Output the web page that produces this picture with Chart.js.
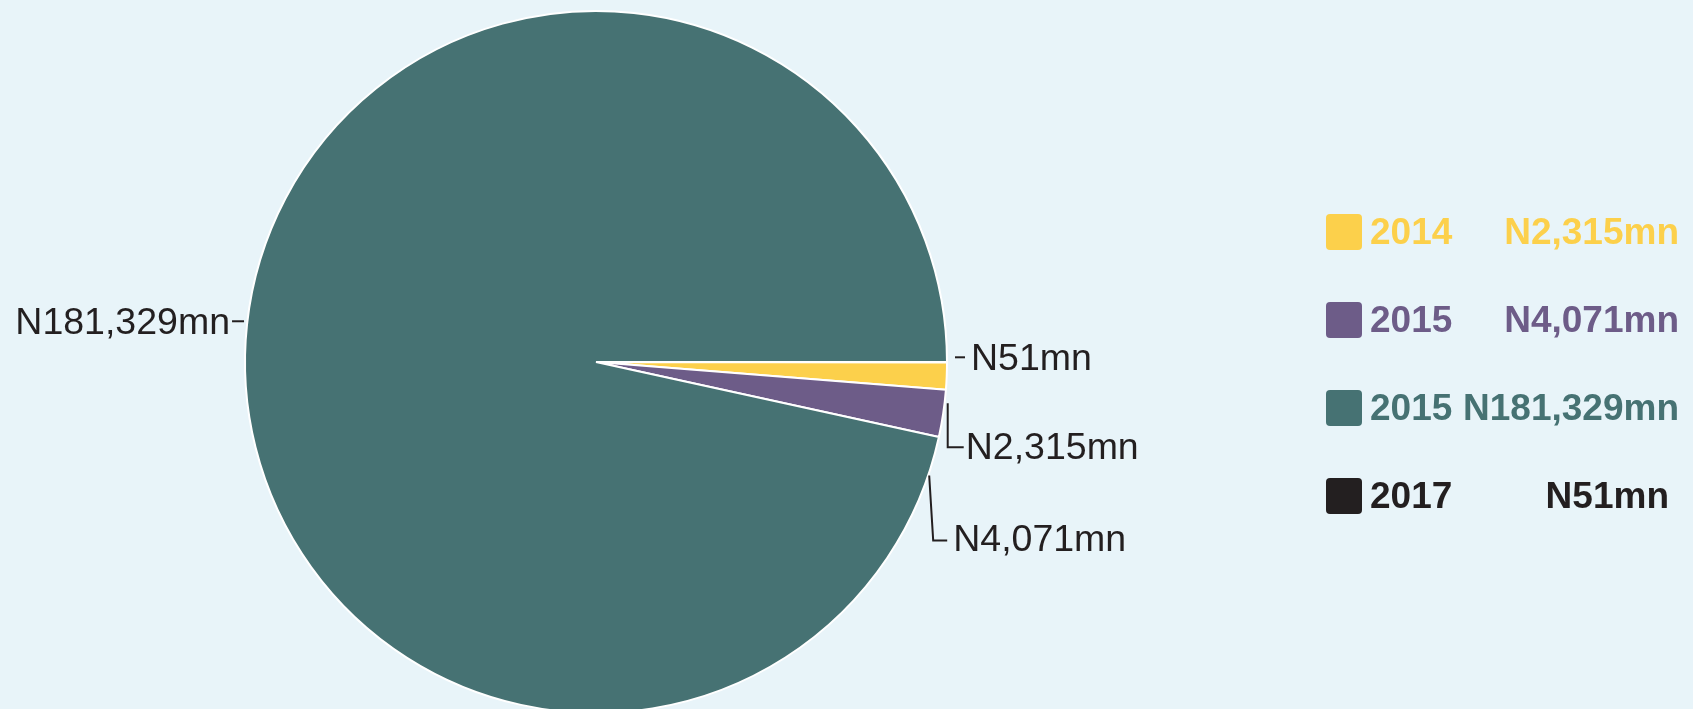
<!DOCTYPE html>
<html>
<head>
<meta charset="utf-8">
<script src="https://cdn.jsdelivr.net/npm/chart.js@4.4.1/dist/chart.umd.min.js"></script>
<style>
  html, body { margin: 0; padding: 0; background: #e8f4f9; overflow: hidden; }
  #wrap { position: absolute; left: 0; top: 0; width: 1693px; height: 724px; }
  #legend { position: absolute; left: 0; top: 0; width: 1693px; height: 709px; pointer-events: none;
            font-family: "Liberation Sans", Arial, Helvetica, sans-serif; font-weight: bold; font-size: 37px; }
  .row { position: absolute; left: 1326px; width: 353px; height: 40px; }
  .box { position: absolute; left: 0; top: 2px; width: 36px; height: 36px; border-radius: 4px; }
  .yr { position: absolute; left: 44px; top: 0; line-height: 40px; }
  .val { position: absolute; right: 0; top: 0; line-height: 40px; }
</style>
</head>
<body>
<div id="wrap"><canvas id="c"></canvas></div>
<div id="legend"></div>
<script>
// ---- data ----
const years = ['2017', '2014', '2015', '2015'];
const values = [51, 2315, 4071, 181329];
const colors = ['#231f20', '#fcd04b', '#6d5c88', '#467273'];
const legendOrder = [1, 2, 3, 0];

function fmt(v) { return 'N' + v.toLocaleString('en-US') + 'mn'; }
const valueLabels = values.map(fmt);

// ---- legend (HTML) ----
const legendTops = [212, 300, 388, 476];
const legend = document.getElementById('legend');
legendOrder.forEach((idx, i) => {
  const row = document.createElement('div');
  row.className = 'row';
  row.style.top = legendTops[i] + 'px';
  row.style.color = colors[idx];
  row.innerHTML = '<div class="box" style="background:' + colors[idx] + '"></div>' +
    '<span class="yr">' + years[idx] + '</span>' +
    '<span class="val"' + (idx === 0 ? ' style="right:10px"' : '') + '>' + valueLabels[idx] + '</span>';
  legend.appendChild(row);
});

// ---- callout label layout (relative to slice mid-point on the rim) ----
const calloutLayout = {
  0: { line: [[8, -5], [18, -5]], text: [24, -5], align: 'left' },
  1: { line: [[1, 27], [1, 71], [17, 71]], text: [19, 70], align: 'left' },
  2: { line: [[-14, 62], [-10, 127], [4, 127]], text: [10, 124], align: 'left' },
  3: { line: [[-15, -3], [-3, -3]], text: [-17, -3], align: 'right' }
};

const calloutPlugin = {
  id: 'callouts',
  afterDatasetsDraw(chart) {
    const ctx = chart.ctx;
    const meta = chart.getDatasetMeta(0);
    ctx.save();
    ctx.font = '37.5px "Liberation Sans", Arial, Helvetica, sans-serif';
    ctx.fillStyle = '#231f20';
    ctx.strokeStyle = '#231f20';
    ctx.lineWidth = 2;
    meta.data.forEach((arc, i) => {
      const p = arc.getProps(['x', 'y', 'startAngle', 'endAngle', 'outerRadius'], true);
      const mid = (p.startAngle + p.endAngle) / 2;
      const ax = p.x + Math.cos(mid) * p.outerRadius;
      const ay = p.y + Math.sin(mid) * p.outerRadius;
      const L = calloutLayout[i];
      ctx.beginPath();
      L.line.forEach((pt, k) => {
        const x = ax + pt[0], y = ay + pt[1];
        if (k === 0) ctx.moveTo(x, y); else ctx.lineTo(x, y);
      });
      ctx.stroke();
      ctx.textAlign = L.align;
      ctx.textBaseline = 'alphabetic';
      ctx.fillText(valueLabels[i], ax + L.text[0], ay + L.text[1] + 13);
    });
    ctx.restore();
  }
};

new Chart(document.getElementById('c'), {
  type: 'pie',
  data: {
    labels: years,
    datasets: [{
      data: values,
      backgroundColor: colors,
      borderColor: '#ffffff',
      borderWidth: 2
    }]
  },
  options: {
    responsive: true,
    maintainAspectRatio: false,
    animation: false,
    rotation: 90,
    layout: { padding: { left: 0, right: 501, top: 10, bottom: 10 } },
    plugins: { legend: { display: false }, tooltip: { enabled: false } },
    events: []
  },
  plugins: [calloutPlugin]
});
</script>
</body>
</html>
